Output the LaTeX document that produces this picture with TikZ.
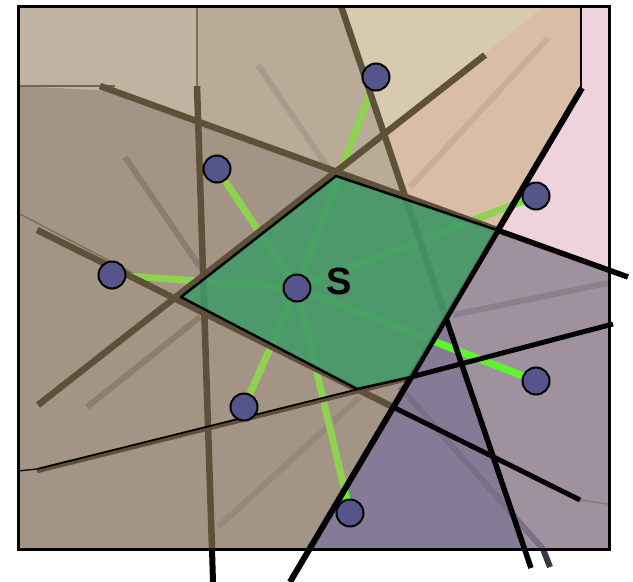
\documentclass[tikz,border=0pt]{standalone}
\usepackage{fontspec}
\setsansfont{Liberation Sans}
\usepackage{tikz}
\usetikzlibrary{positioning}

\definecolor{lnbrown}{HTML}{5F5139}
\definecolor{regA}{HTML}{C0B3A2}
\definecolor{regB}{HTML}{B8AB98}
\definecolor{regG}{HTML}{A39485}
\definecolor{regD}{HTML}{D8CAAE}
\definecolor{regE}{HTML}{D9BDA6}
\definecolor{regF}{HTML}{EED3DC}
\definecolor{regH}{HTML}{857B97}
\definecolor{regI}{HTML}{A0919E}
\definecolor{cellgreen}{HTML}{3F9A68}
\definecolor{sitecol}{HTML}{55558C}
\definecolor{spokelt}{HTML}{8FD24F}
\definecolor{spokebr}{HTML}{5EF52E}

\begin{document}
\begin{tikzpicture}[x=1pt,y=-1pt,
  brn/.style={draw=lnbrown,line width=6.5pt},
  blk/.style={draw=black,line width=5.5pt},
  thin/.style={line width=1.3pt},
  faint/.style={line width=6pt},
  spoke/.style={line width=7pt},
  site/.style={circle,draw=black,line width=2pt,fill=sitecol,minimum size=27pt,inner sep=0pt}]
\useasboundingbox (0,0) rectangle (633,582);
\fill[regG] (18,6) rectangle (609,549);
\fill[regA] (18,6) -- (197,6) -- (197,121) -- (115,91) -- (18,86) -- cycle;
\fill[regB] (197,6) -- (343,6) -- (407,197) -- (197,121) -- cycle;
\fill[regD] (343,6) -- (546,6) -- (385,133) -- cycle;
\fill[regE] (546,6) -- (581,6) -- (581,88) -- (497,230) -- (407,197) -- (385,133) -- cycle;
\fill[regF] (581,6) -- (609,6) -- (609,270) -- (497,230) -- (581,88) -- cycle;
\fill[regI] (497,230) -- (609,270) -- (609,549) -- (525,549) -- (446,318) -- cycle;
\fill[regH] (446,318) -- (309,549) -- (525,549) -- cycle;

\draw[thin,draw=lnbrown!80!regA] (18,86) -- (115,86);
\draw[thin,draw=lnbrown!70!regA] (197,6) -- (197,86);
\draw[thin,draw=black] (581,6) -- (581,88);
\draw[thin,draw=lnbrown!60!regG] (18,213) -- (150,282);
\draw[thin,draw=black] (18,471) -- (37,469);
\draw[thin,draw=lnbrown!40!regI] (580,500) -- (608,504);

\draw[faint,draw=black!15!regG] (125,157) -- (200,267);
\draw[faint,draw=black!9!regB] (258,65) -- (328,168);
\draw[faint,draw=black!15!regG] (87,407) -- (200,317);
\draw[faint,draw=black!8!regG] (218,527) -- (360,397);
\draw[faint,draw=black!8!regE] (548,38) -- (410,187);
\draw[faint,draw=black!12!regI] (453,315) -- (608,283);
\draw[faint,draw=black!10!regH] (400,387) -- (543,549);
\draw[faint,draw=regH!45!black] (543,549) -- (550,567);

\coordinate (c) at (297,288);
\coordinate (p1) at (376,77);
\coordinate (p2) at (217,169);
\coordinate (p3) at (536,196);
\coordinate (p4) at (112,275);
\coordinate (p6) at (536,381);
\coordinate (p7) at (244,407);
\coordinate (p8) at (350,513);
\foreach \p in {p1,p2,p3,p4,p6,p7,p8}
  \draw[spoke,draw=spokelt] (c) -- (\p);
\begin{scope}
\clip (581,6) -- (609,6) -- (609,270) -- (497,230) -- (581,88) -- cycle
  (497,230) -- (609,270) -- (609,549) -- (525,549) -- (446,318) -- cycle
  (446,318) -- (309,549) -- (525,549) -- cycle;
\foreach \p in {p3,p6,p8}
  \draw[spoke,draw=spokebr] (c) -- (\p);
\end{scope}

\draw[brn] (197,86) -- (212,549);
\draw[blk,line width=6pt] (212,549) -- (213,582);
\draw[brn] (100,86) -- (497,230);
\draw[blk] (497,230) -- (628,277);
\draw[brn] (38,405) -- (485,55);
\draw[brn] (341,6) -- (446,318);
\draw[blk] (446,318) -- (531,568);
\draw[brn] (37,230) -- (393,407);
\draw[blk,line width=5pt] (393,407) -- (580,500);
\draw[brn,line width=4.5pt] (37,471) -- (411,378);
\draw[thin,draw=black,line width=1.8pt] (37,469) -- (411,376);
\draw[blk,line width=5pt] (411,377) -- (613,324);
\draw[blk,line width=6pt] (582,88) -- (290,582);

\fill[cellgreen,opacity=0.86] (336,176) -- (497,230) -- (411,377) -- (357,389) -- (181,297) -- cycle;
\draw[line width=2.5pt,line join=round] (336,176) -- (497,230) -- (411,377) -- (357,389) -- (181,297) -- cycle;

\draw[line width=3pt] (18,6) rectangle (609,549);

\node[site] (s1) at (p1) {};
\node[site] (s2) at (p2) {};
\node[site] (s3) at (p3) {};
\node[site] (s4) at (p4) {};
\node[site] (s5) at (c) {};
\node[site] (s6) at (p6) {};
\node[site] (s7) at (p7) {};
\node[site] (s8) at (p8) {};
\node[text=black!60,opacity=0.5] at (340.5,282.5) {\fontsize{38}{38}\selectfont\sffamily\bfseries S};
\node (lblS) at (339,281) {\fontsize{38}{38}\selectfont\sffamily\bfseries S};
\end{tikzpicture}
\end{document}
